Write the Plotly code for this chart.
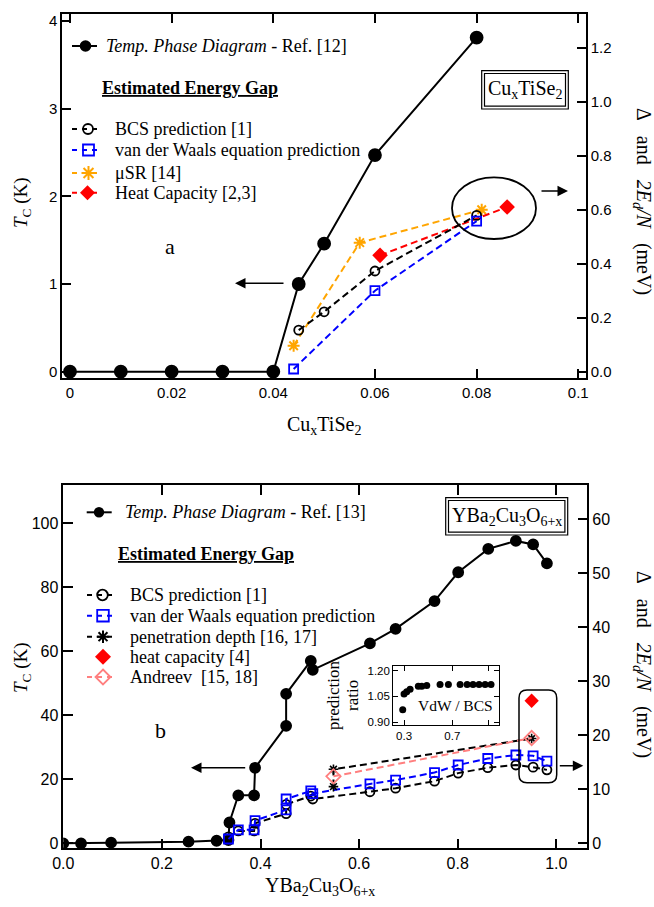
import plotly.graph_objects as go

W, H = 654, 907
def X(p): return p / W
def Y(p): return 1 - p / H

SANS = "Liberation Sans, Arial, sans-serif"
SERIF = "Liberation Serif, Times New Roman, serif"
DASH = "7px,4px"

# ---------------- panel a : CuxTiSe2 ----------------
a_phase_x  = [0.0, 0.01, 0.02, 0.03, 0.04, 0.045, 0.05, 0.06, 0.08]
a_phase_tc = [0.0, 0.0, 0.0, 0.0, 0.0, 1.00, 1.46, 2.47, 3.81]
a_bcs_x  = [0.045, 0.05, 0.06, 0.08]
a_bcs    = [0.154, 0.222, 0.373, 0.579]
a_vdw_x  = [0.044, 0.06, 0.08]
a_vdw    = [0.010, 0.300, 0.558]
a_musr_x = [0.044, 0.057, 0.081]
a_musr   = [0.096, 0.478, 0.600]
a_hc_x   = [0.061, 0.086]
a_hc     = [0.431, 0.610]
a_xticks = [0, 0.02, 0.04, 0.06, 0.08, 0.1]
a_xticklabels = ["0", "0.02", "0.04", "0.06", "0.08", "0.1"]
a_tc_ticks = [0, 1, 2, 3, 4]
a_gap_ticks = [0.0, 0.2, 0.4, 0.6, 0.8, 1.0, 1.2]

# ---------------- panel b : YBa2Cu3O6+x ----------------
b_phase_x  = [0.0, 0.036, 0.097, 0.254, 0.311, 0.335, 0.337, 0.355, 0.387, 0.389,
              0.452, 0.452, 0.502, 0.506, 0.622, 0.674, 0.753, 0.801, 0.862, 0.918, 0.953, 0.981]
b_phase_tc = [0.0, 0.0, 0.2, 0.5, 0.8, 1.0, 6.5, 15.0, 15.0, 23.6,
              36.7, 46.7, 57.0, 54.2, 62.5, 67.0, 75.7, 84.7, 92.0, 94.5, 93.4, 87.5]
b_gap_x = [0.335, 0.355, 0.387, 0.389, 0.452, 0.452, 0.502, 0.506,
           0.622, 0.674, 0.753, 0.801, 0.861, 0.918, 0.953, 0.981]
b_bcs   = [1.2, 2.3, 2.3, 3.7, 5.5, 7.2, 8.75, 8.2,
           9.55, 10.2, 11.5, 13.0, 14.0, 14.5, 14.1, 13.6]
b_vdw   = [0.8, 2.5, 2.5, 4.2, 6.2, 8.2, 9.7, 9.2,
           11.0, 11.7, 13.1, 14.5, 15.7, 16.35, 16.2, 15.2]
b_pen_x = [0.548, 0.548, 0.95]
b_pen   = [10.5, 13.7, 19.4]
b_and_x = [0.548, 0.95]
b_and   = [12.4, 19.5]
b_hc_x  = [0.95]
b_hc    = [26.4]
b_xticks = [0.0, 0.2, 0.4, 0.6, 0.8, 1.0]
b_tc_ticks = [0, 20, 40, 60, 80, 100]
b_gap_ticks = [0, 10, 20, 30, 40, 50, 60]

# ---------------- inset : VdW / BCS ratio ----------------
ins_x     = [0.289, 0.30, 0.322, 0.35, 0.418, 0.447, 0.488, 0.598, 0.667,
             0.764, 0.822, 0.871, 0.921, 0.971, 1.02]
ins_ratio = [0.973, 1.064, 1.077, 1.092, 1.11, 1.11, 1.114, 1.12, 1.12,
             1.12, 1.12, 1.12, 1.12, 1.12, 1.12]
ins_xticks = [0.3, 0.7, 1.0]
ins_xticklabels = ["0.3", "0.7", ""]
ins_yticks = [0.90, 1.05, 1.20]

fig = go.Figure()

def sc(x, y, xa, ya, color, symbol, size, dash=None, mode='lines+markers', lw=2, mlw=1.8):
    fig.add_trace(go.Scatter(
        x=x, y=y, xaxis=xa, yaxis=ya, mode=mode, showlegend=False, hoverinfo='skip',
        line=dict(color=color, width=lw, dash=dash or 'solid'),
        marker=dict(symbol=symbol, size=size, color=color, line=dict(color=color, width=mlw))))

# panel a
sc(a_phase_x, a_phase_tc, 'x', 'y', 'black', 'circle', 12)
sc(a_musr_x, a_musr, 'x', 'y2', '#ffa500', 'asterisk-open', 10, DASH, mlw=2)
sc(a_hc_x, a_hc, 'x', 'y2', '#ff0000', 'diamond', 12, DASH, mlw=0)
sc(a_bcs_x, a_bcs, 'x', 'y2', 'black', 'circle-open', 9, DASH)
sc(a_vdw_x, a_vdw, 'x', 'y2', '#0000ff', 'square-open', 9, DASH)

# panel b
sc(b_phase_x, b_phase_tc, 'x2', 'y3', 'black', 'circle', 10)
sc(b_gap_x, b_bcs, 'x2', 'y4', 'black', 'circle-open', 9, DASH)
sc(b_gap_x, b_vdw, 'x2', 'y4', '#0000ff', 'square-open', 9, DASH)
sc(b_pen_x, b_pen, 'x2', 'y4', 'black', 'asterisk-open', 8, DASH, mlw=1.6)
sc(b_and_x, b_and, 'x2', 'y4', '#ff7f7f', 'diamond-open', 11, DASH)
sc(b_hc_x, b_hc, 'x2', 'y4', '#ff0000', 'diamond', 11, mode='markers', mlw=0)

# inset
sc(ins_x, ins_ratio, 'x3', 'y5', 'black', 'circle', 7, mode='markers', mlw=0)

def ax(**kw):
    d = dict(showline=True, linecolor='black', linewidth=1.5, ticks='inside', ticklen=9,
             tickwidth=1.5, tickcolor='black', showgrid=False, zeroline=False,
             tickfont=dict(family=SANS, size=15, color='black'))
    d.update(kw)
    return d

layout = dict(
    width=W, height=H, autosize=False, margin=dict(l=0, r=0, t=0, b=0),
    paper_bgcolor='white', plot_bgcolor='white', showlegend=False, template='none',
    xaxis=ax(domain=[X(62), X(586)], range=[-0.00157, 0.10152], anchor='y', mirror='ticks',
             tickvals=a_xticks, ticktext=a_xticklabels),
    yaxis=ax(domain=[Y(378), Y(14)], range=[-0.072, 4.079], anchor='x', tickvals=a_tc_ticks),
    yaxis2=ax(overlaying='y', side='right', anchor='x', range=[-0.0233, 1.325],
              tickvals=a_gap_ticks, tickformat='.1f'),
    xaxis2=ax(domain=[X(63.3), X(587.3)], range=[0, 1.0629], anchor='y3', mirror='ticks',
              tickvals=b_xticks, tickformat='.1f', ticklen=10, tickfont=dict(family=SANS, size=16, color='black')),
    yaxis3=ax(domain=[Y(848.3), Y(485)], range=[-1.5625, 111.97], anchor='x2', tickvals=b_tc_ticks,
              ticklen=10, tickfont=dict(family=SANS, size=16, color='black')),
    yaxis4=ax(overlaying='y3', side='right', anchor='x2', range=[-0.926, 66.35], tickvals=b_gap_ticks,
              ticklen=10, tickfont=dict(family=SANS, size=16, color='black')),
    xaxis3=ax(domain=[X(393.3), X(499)], range=[0.211, 1.086], anchor='y5', mirror='ticks',
              tickvals=ins_xticks, ticktext=ins_xticklabels, ticklen=5, linewidth=1.2, tickwidth=1.2,
              tickfont=dict(family=SANS, size=11.5, color='black')),
    yaxis5=ax(domain=[Y(725), Y(666)], range=[0.884, 1.227], anchor='x3', mirror='ticks',
              tickvals=ins_yticks, tickformat='.2f', ticklen=5, linewidth=1.2, tickwidth=1.2,
              tickfont=dict(family=SANS, size=11.5, color='black')),
)
fig.update_layout(**layout)

shapes = []
annotations = []

def seg(x0, x1, y, color, dash='solid', width=2):
    shapes.append(dict(type='line', xref='paper', yref='paper', x0=X(x0), x1=X(x1), y0=Y(y), y1=Y(y),
                       line=dict(color=color, width=width, dash=dash)))

def circ(cx, cy, r, color, filled, width=1.8):
    shapes.append(dict(type='circle', xref='paper', yref='paper', x0=X(cx - r), x1=X(cx + r),
                       y0=Y(cy + r), y1=Y(cy - r), line=dict(color=color, width=0 if filled else width),
                       fillcolor=color if filled else 'rgba(0,0,0,0)'))

def square(cx, cy, r, color, width=1.8):
    shapes.append(dict(type='rect', xref='paper', yref='paper', x0=X(cx - r), x1=X(cx + r),
                       y0=Y(cy + r), y1=Y(cy - r), line=dict(color=color, width=width),
                       fillcolor='rgba(0,0,0,0)'))

def diamond(cx, cy, r, color, filled, width=1.8):
    d = (f"M{X(cx)},{Y(cy - r)} L{X(cx + r)},{Y(cy)} L{X(cx)},{Y(cy + r)} "
         f"L{X(cx - r)},{Y(cy)} Z")
    shapes.append(dict(type='path', xref='paper', yref='paper', path=d,
                       line=dict(color=color, width=0 if filled else width),
                       fillcolor=color if filled else 'rgba(0,0,0,0)'))

def asterisk(cx, cy, r, color, width=1.8):
    a = r * 0.7071
    d = (f"M{X(cx - r)},{Y(cy)} L{X(cx + r)},{Y(cy)} M{X(cx)},{Y(cy - r)} L{X(cx)},{Y(cy + r)} "
         f"M{X(cx - a)},{Y(cy - a)} L{X(cx + a)},{Y(cy + a)} "
         f"M{X(cx - a)},{Y(cy + a)} L{X(cx + a)},{Y(cy - a)}")
    shapes.append(dict(type='path', xref='paper', yref='paper', path=d,
                       line=dict(color=color, width=width)))

def rect(x0, y0, x1, y1, width=1.2):
    shapes.append(dict(type='rect', xref='paper', yref='paper', x0=X(x0), x1=X(x1),
                       y0=Y(y1), y1=Y(y0), line=dict(color='black', width=width)))

def rrect(x0, y0, x1, y1, r, width=1.5):
    d = (f"M{X(x0 + r)},{Y(y0)} L{X(x1 - r)},{Y(y0)} Q{X(x1)},{Y(y0)} {X(x1)},{Y(y0 + r)} "
         f"L{X(x1)},{Y(y1 - r)} Q{X(x1)},{Y(y1)} {X(x1 - r)},{Y(y1)} "
         f"L{X(x0 + r)},{Y(y1)} Q{X(x0)},{Y(y1)} {X(x0)},{Y(y1 - r)} "
         f"L{X(x0)},{Y(y0 + r)} Q{X(x0)},{Y(y0)} {X(x0 + r)},{Y(y0)} Z")
    shapes.append(dict(type='path', xref='paper', yref='paper', path=d,
                       line=dict(color='black', width=width)))

def text(x, y, s, size=18, font=SERIF, xanchor='left', yanchor='middle', angle=0):
    annotations.append(dict(xref='paper', yref='paper', x=X(x), y=Y(y), text=s, showarrow=False,
                            xanchor=xanchor, yanchor=yanchor, textangle=angle,
                            font=dict(family=font, size=size, color='black')))

def arrow(tx, ty, hx, hy):
    annotations.append(dict(xref='paper', yref='paper', x=X(hx), y=Y(hy), ax=tx - hx, ay=ty - hy,
                            axref='pixel', ayref='pixel', text='', showarrow=True, arrowhead=2,
                            arrowsize=1.4, arrowwidth=1.5, arrowcolor='black'))

NB = "\u00a0\u00a0\u00a0"

# ---- panel a decorations ----
seg(72, 97, 46, 'black', width=2)
circ(85.5, 46, 5.8, 'black', True)
text(104, 46, "<i>Temp. Phase Diagram</i> - Ref. [12]")
text(189.7, 88, "<b><u>Estimated Energy Gap</u></b>", xanchor='center')
seg(72, 98, 129, 'black', dash="5px,5px")
circ(88, 129, 5, 'black', False)
text(113, 129, "BCS prediction [1]")
seg(72, 98, 150, '#0000ff', dash="5px,5px")
square(88.5, 150, 5.5, '#0000ff')
text(113, 150, "van der Waals equation prediction")
seg(72, 98, 173, '#ffa500', dash="5px,5px")
asterisk(88.5, 173, 7, '#ffa500', width=2)
text(113, 173, "\u03bcSR [14]")
seg(72, 98, 192.7, '#ff0000', dash="5px,5px")
diamond(87.5, 192.7, 7.5, '#ff0000', True)
text(113, 192.7, "Heat Capacity [2,3]")
rect(481.7, 70.7, 568.3, 109)
rect(484.5, 73.5, 565.5, 106.2)
text(525, 90, "Cu<sub>x</sub>TiSe<sub>2</sub>", size=20, xanchor='center')
text(170, 246, "a", size=22, xanchor='center')
shapes.append(dict(type='circle', xref='paper', yref='paper', x0=X(452), x1=X(536),
                   y0=Y(239), y1=Y(177.3), line=dict(color='black', width=1.8)))
arrow(540, 191, 568, 191)
arrow(285, 283.3, 235, 283.3)
text(22, 202, "<i>T</i><sub>C</sub> (K)", size=19, xanchor='center', angle=-90)
text(643, 201, "\u0394" + NB + "and" + NB + "<i>2E<sub>d</sub>/N</i>" + NB + "(meV)", size=20,
     xanchor='center', angle=90)
text(324, 425, "Cu<sub>x</sub>TiSe<sub>2</sub>", size=20, xanchor='center')

# ---- panel b decorations ----
seg(86.7, 111.7, 512.3, 'black', width=2)
circ(99, 512.3, 5.2, 'black', True)
text(123.3, 512.3, "<i>Temp. Phase Diagram</i> - Ref. [13]")
text(205.5, 554, "<b><u>Estimated Energy Gap</u></b>", xanchor='center')
seg(87, 115, 595, 'black', dash="5px,5px")
circ(102.5, 595, 5.3, 'black', False)
text(127.7, 595, "BCS prediction [1]")
seg(87, 115, 615.7, '#0000ff', dash="5px,5px")
square(103, 615.7, 5.8, '#0000ff')
text(127.7, 615.7, "van der Waals equation prediction")
seg(87, 115, 636.7, 'black', dash="5px,5px")
asterisk(103, 636.7, 6.3, 'black', width=2)
text(127.7, 636.7, "penetration depth [16, 17]")
diamond(103, 656.7, 8, '#ff0000', True)
text(127.7, 656.7, "heat capacity [4]")
seg(87, 115, 677, '#ff7f7f', dash="5px,5px")
diamond(103, 677, 7.5, '#ff7f7f', False)
text(127.7, 677, "Andreev\u00a0\u00a0[15, 18]")
rect(445.7, 497.7, 567.7, 535)
rect(448.5, 500.5, 564.9, 532.2)
text(506.7, 516.3, "YBa<sub>2</sub>Cu<sub>3</sub>O<sub>6+x</sub>", size=20, xanchor='center')
text(160, 730, "b", size=22, xanchor='center')
rrect(519, 690, 556.7, 782.7, 8)
arrow(558.3, 765.7, 583.3, 765.7)
arrow(246.7, 767.7, 191, 767.7)
text(22, 667, "<i>T</i><sub>C</sub> (K)", size=19, xanchor='center', angle=-90)
text(643, 664, "\u0394" + NB + "and" + NB + "<i>2E<sub>d</sub>/N</i>" + NB + "(meV)", size=20,
     xanchor='center', angle=90)
text(320, 886, "YBa<sub>2</sub>Cu<sub>3</sub>O<sub>6+x</sub>", size=20, xanchor='center')

# ---- inset decorations ----
text(333, 695, "prediction", size=17, xanchor='center', angle=-90)
text(352, 695, "ratio", size=17, xanchor='center', angle=-90)
text(455, 705, "VdW / BCS", size=15.5, xanchor='center')

fig.update_layout(shapes=shapes, annotations=annotations)

fig.write_html("out.html", config={'displayModeBar': False},
               post_script="document.body.style.margin='0px';")
